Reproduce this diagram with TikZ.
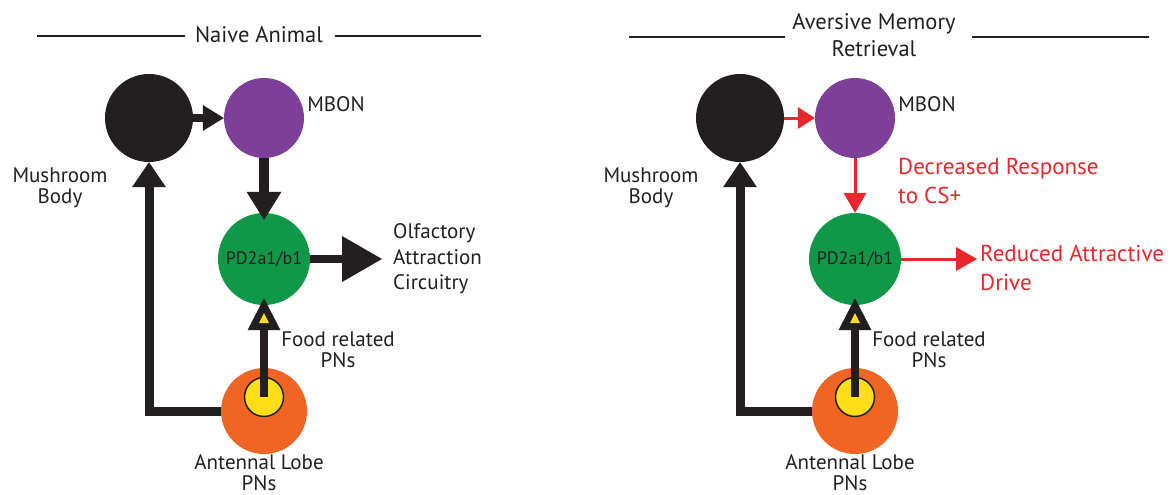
\documentclass[tikz,border=0pt]{standalone}
\usepackage{fontspec}
\setmainfont{PT Sans}
\usetikzlibrary{arrows.meta,calc}
\definecolor{ink}{RGB}{35,31,32}
\definecolor{mbpurple}{RGB}{125,63,152}
\definecolor{pdgreen}{RGB}{16,152,72}
\definecolor{alorange}{RGB}{240,101,35}
\definecolor{pnyellow}{RGB}{255,222,23}
\definecolor{cred}{RGB}{232,38,43}
\tikzset{
  cell/.style={circle, inner sep=0pt, draw=none},
  lbl/.style={text=ink, font=\fontsize{21}{21}\selectfont, align=center, inner sep=0pt},
  redlbl/.style={text=cred, font=\fontsize{23}{28.5}\selectfont, align=left, inner sep=0pt, anchor=west},
  title/.style={text=ink, font=\fontsize{22.5}{27}\selectfont, align=center, inner sep=0pt},
  rule/.style={draw=ink, line width=2pt},
  blk/.style={draw=ink, line cap=butt},
  redarr/.style={draw=cred, line width=3pt},
  pdtext/.style={text=ink, font=\fontsize{18}{21}\selectfont},
}
\begin{document}
\begin{tikzpicture}[x=1pt,y=-1pt]
\useasboundingbox (0,0) rectangle (1175,495);

% ---------------- Naive animal ----------------
\node[title] (t1) at (259,35) {Naive Animal};
\coordinate (t1a) at (37,36); \coordinate (t1b) at (185,36);
\coordinate (t1c) at (335,36); \coordinate (t1d) at (481,36);
\draw[rule] (t1a) -- (t1b); \draw[rule] (t1c) -- (t1d);

\node[cell, fill=ink, minimum size=88pt] (mb1) at (149,118) {};
\node[cell, fill=mbpurple, minimum size=80pt] (mbon1) at (264,118) {};
\node[cell, fill=pdgreen, minimum size=92pt, pdtext] (pd1) at (264,259) {PD2a1/b1};
\node[cell, fill=alorange, minimum size=86pt] (al1) at (264,411) {};
\node[cell, fill=pnyellow, draw=ink, line width=1.5pt, minimum size=39pt] (pn1) at (264,397) {};

\node[lbl] (mush1) at (60,188) {Mushroom\\Body};
\node[lbl] (mbonl1) at (336,104) {MBON};
\node[lbl, align=left, anchor=west, font=\fontsize{21}{25.5}\selectfont] (olf1) at (393,259) {Olfactory\\Attraction\\Circuitry};
\node[lbl] (food1) at (338,350) {Food related\\PNs};
\node[lbl] (antl1) at (259,473) {Antennal Lobe\\PNs};
\coordinate (out1) at (382,259);

\draw[blk, line width=8pt, -{Triangle[length=21pt,width=26pt,line width=0pt]}] (mb1.east) -- (mbon1.west);
\draw[blk, line width=10pt, shorten >=-7pt, -{Triangle[length=28pt,width=35pt,line width=0pt]}] (mbon1.south) -- (pd1.north);
\draw[blk, line width=9pt, -{Triangle[length=25pt,width=34pt,line width=0pt]}] (al1.west) -| (mb1.south);
\draw[blk, line width=8pt, shorten >=-7pt, -{Triangle[length=32pt,width=33pt,line width=0pt]}] (pn1.center) -- (pd1.south);
\fill[pnyellow] ($(pd1.south)+(-5,18)$) -- ($(pd1.south)+(5,18)$) -- ($(pd1.south)+(0,8)$) -- cycle;
\draw[blk, line width=8pt, -{Triangle[length=40pt,width=46pt,line width=0pt]}] (pd1.east) -- (out1);

% ---------------- Aversive memory retrieval ----------------
\node[title] (t2) at (874,35) {Aversive Memory\\Retrieval};
\coordinate (t2a) at (629,37); \coordinate (t2b) at (785,37);
\coordinate (t2c) at (972,37); \coordinate (t2d) at (1149,37);
\draw[rule] (t2a) -- (t2b); \draw[rule] (t2c) -- (t2d);

\node[cell, fill=ink, minimum size=88pt] (mb2) at (740,118) {};
\node[cell, fill=mbpurple, minimum size=80pt] (mbon2) at (855,118) {};
\node[cell, fill=pdgreen, minimum size=92pt, pdtext] (pd2) at (855,259) {PD2a1/b1};
\node[cell, fill=alorange, minimum size=86pt] (al2) at (855,411) {};
\node[cell, fill=pnyellow, draw=ink, line width=1.5pt, minimum size=39pt] (pn2) at (855,397) {};

\node[lbl] (mush2) at (651,188) {Mushroom\\Body};
\node[lbl] (mbonl2) at (927,104) {MBON};
\node[lbl] (food2) at (929,350) {Food related\\PNs};
\node[lbl] (antl2) at (850,473) {Antennal Lobe\\PNs};
\node[redlbl] (dec2) at (898,181) {Decreased Response\\to CS+};
\node[redlbl] (red2) at (980,268) {Reduced Attractive\\Drive};
\coordinate (out2) at (977,259);

\draw[redarr, -{Triangle[length=17pt,width=22pt,line width=0pt]}] (mb2.east) -- (mbon2.west);
\draw[redarr, -{Triangle[length=20pt,width=23pt,line width=0pt]}] (mbon2.south) -- (pd2.north);
\draw[blk, line width=9pt, -{Triangle[length=25pt,width=34pt,line width=0pt]}] (al2.west) -| (mb2.south);
\draw[blk, line width=8pt, shorten >=-7pt, -{Triangle[length=32pt,width=33pt,line width=0pt]}] (pn2.center) -- (pd2.south);
\fill[pnyellow] ($(pd2.south)+(-5,18)$) -- ($(pd2.south)+(5,18)$) -- ($(pd2.south)+(0,8)$) -- cycle;
\draw[redarr, -{Triangle[length=21pt,width=24pt,line width=0pt]}] (pd2.east) -- (out2);
\end{tikzpicture}
\end{document}
